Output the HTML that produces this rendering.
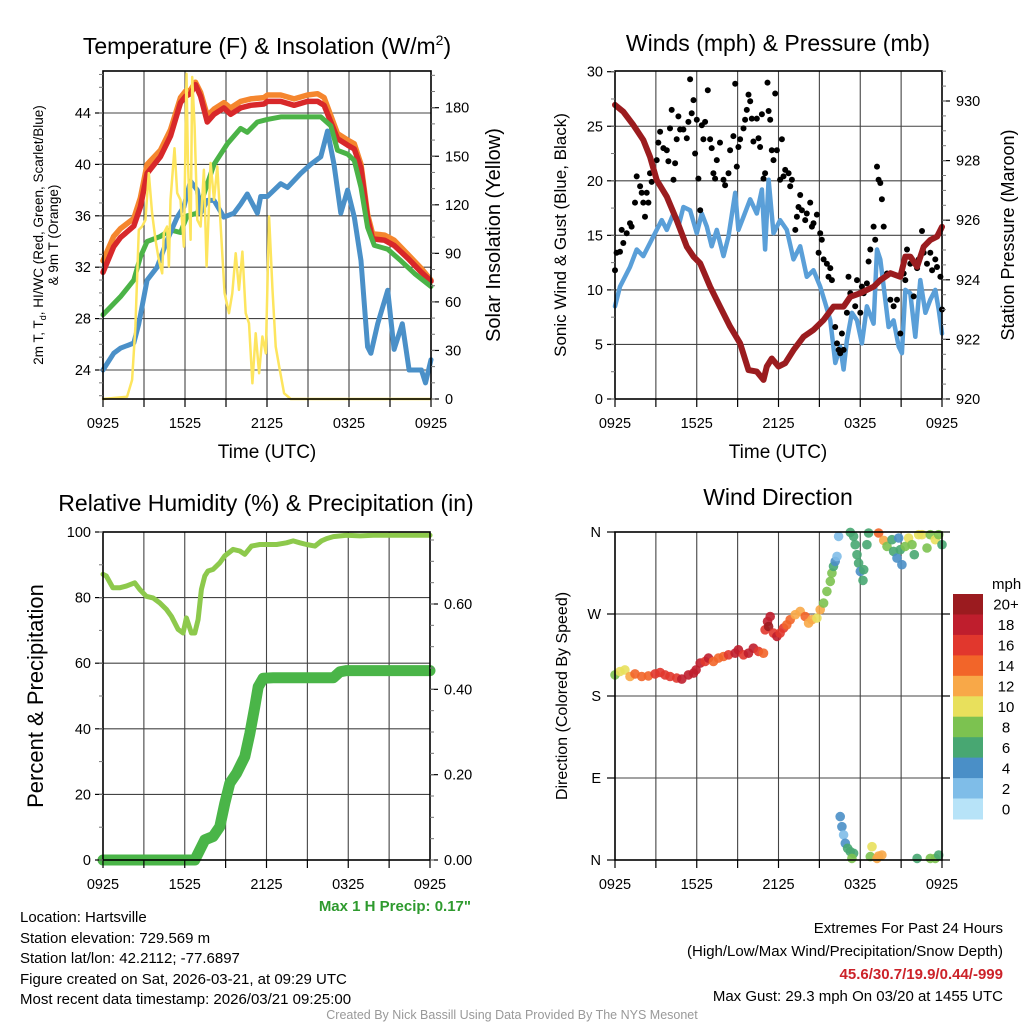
<!DOCTYPE html>
<html><head><meta charset="utf-8">
<style>
html,body{margin:0;padding:0;background:#fff;}
svg{display:block;font-family:"Liberation Sans",Arial,sans-serif;}
</style></head>
<body>
<svg id="fig" width="1024" height="1024" viewBox="0 0 1024 1024" xmlns="http://www.w3.org/2000/svg">
<rect width="1024" height="1024" fill="#fff"/>
<g id="layer-grid"></g>
<g id="layer-data"></g>
<g id="layer-axes"></g>
<!-- Titles -->
<text x="267" y="54" font-size="23" text-anchor="middle">Temperature (F) &amp; Insolation (W/m<tspan font-size="14" dy="-9">2</tspan><tspan dy="9">)</tspan></text>
<text x="778" y="51" font-size="23" text-anchor="middle">Winds (mph) &amp; Pressure (mb)</text>
<text x="266" y="511" font-size="23" text-anchor="middle">Relative Humidity (%) &amp; Precipitation (in)</text>
<text x="778" y="505" font-size="23" text-anchor="middle">Wind Direction</text>
<!-- Axis titles -->
<text x="267" y="458" font-size="19" text-anchor="middle">Time (UTC)</text>
<text x="778" y="458" font-size="19" text-anchor="middle">Time (UTC)</text>
<text transform="translate(43,235) rotate(-90)" font-size="13.5" text-anchor="middle">2m T, T<tspan font-size="9" dy="3">d</tspan><tspan dy="-3">, HI/WC (Red, Green, Scarlet/Blue)</tspan></text>
<text transform="translate(58,235) rotate(-90)" font-size="13.5" text-anchor="middle">&amp; 9m T (Orange)</text>
<text transform="translate(500,235) rotate(-90)" font-size="20" text-anchor="middle">Solar Insolation (Yellow)</text>
<text transform="translate(566,235) rotate(-90)" font-size="17" text-anchor="middle">Sonic Wind &amp; Gust (Blue, Black)</text>
<text transform="translate(1014,235) rotate(-90)" font-size="18" text-anchor="middle">Station Pressure (Maroon)</text>
<text transform="translate(43,696) rotate(-90)" font-size="22" text-anchor="middle">Percent &amp; Precipitation</text>
<text transform="translate(567,696) rotate(-90)" font-size="16" text-anchor="middle">Direction (Colored By Speed)</text>
<!-- Colorbar -->
<g id="colorbar"></g>
<text x="992" y="589" font-size="15">mph</text>
<!-- Footer -->
<text x="471" y="911" font-size="15" font-weight="bold" fill="#2e9a2e" text-anchor="end">Max 1 H Precip: 0.17"</text>
<g font-size="15">
<text x="20" y="922">Location: Hartsville</text>
<text x="20" y="943">Station elevation: 729.569 m</text>
<text x="20" y="963">Station lat/lon: 42.2112; -77.6897</text>
<text x="20" y="984">Figure created on Sat, 2026-03-21, at 09:29 UTC</text>
<text x="20" y="1004">Most recent data timestamp: 2026/03/21 09:25:00</text>
</g>
<g font-size="15" text-anchor="end">
<text x="1003" y="933">Extremes For Past 24 Hours</text>
<text x="1003" y="956">(High/Low/Max Wind/Precipitation/Snow Depth)</text>
<text x="1003" y="979" font-weight="bold" fill="#cc2229">45.6/30.7/19.9/0.44/-999</text>
<text x="1003" y="1001">Max Gust: 29.3 mph On 03/20 at 1455 UTC</text>
</g>
<text x="512" y="1019" font-size="12.5" fill="#999" text-anchor="middle">Created By Nick Bassill Using Data Provided By The NYS Mesonet</text>
</svg>
<script>
// ---------- DATA ----------
const tRedT=[0,0.78,1.27,2.25,2.74,3.23,4.2,4.94,5.67,6.04,6.4,6.77,7.14,7.63,8.12,8.85,9.34,10.07,10.8,11.78,12.03,13.0,13.98,14.96,15.7,16.18,16.67,17.16,17.9,18.39,18.88,19.36,19.73,20.6,21.3,22.3,23.3,24];
const redTemp=[31.6,33.6,34.3,35.2,36.7,39.3,40.6,42.2,44.8,45.3,45.5,46.2,45.3,43.3,43.9,44.4,43.9,44.4,44.6,44.7,44.9,44.9,44.6,44.9,44.9,44.6,43.3,42.0,41.5,41.2,39.7,35.8,34.2,34.1,33.7,32.7,31.6,30.9];
const orangeTemp=[32.5,34.4,35.0,35.8,37.4,40.0,41.1,42.7,45.2,45.7,45.8,46.4,45.6,43.8,44.3,44.8,44.4,44.9,45.1,45.2,45.4,45.4,45.1,45.4,45.5,45.2,43.8,42.4,41.9,41.6,40.0,36.1,34.6,34.5,34.1,33.0,31.9,31.0];
const tGreen=[0,1.27,2.25,2.74,3.23,4.2,4.94,5.67,6.16,6.9,7.38,8.12,9.1,10.07,10.56,11.3,12.03,13.0,14.47,15.94,16.67,17.16,17.9,18.39,18.88,19.36,19.85,20.83,21.8,22.8,24];
const greenTemp=[28.3,29.7,31.0,32.8,34.0,34.4,34.9,34.7,36.0,36.2,37.7,40.0,41.6,42.8,42.5,43.3,43.5,43.7,43.7,43.7,43.0,41.1,40.8,40.3,38.2,35.1,33.7,33.4,32.5,31.5,30.5];
const tBlue=[0,0.78,1.27,2.25,2.62,3.23,3.96,4.69,5.43,5.92,6.4,6.9,7.14,7.63,8.12,8.85,9.58,10.07,10.56,11.3,11.54,12.03,13.0,13.5,14.47,15.2,15.94,16.43,16.9,17.4,17.9,18.39,18.88,19.36,19.6,20.1,20.83,21.3,21.9,22.4,23.3,23.6,24];
const dewTemp=[24.0,25.3,25.7,26.1,27.6,31.0,32.0,34.1,35.9,36.7,38.7,38.0,36.2,37.2,37.2,35.9,36.2,36.9,37.7,36.2,37.5,37.5,38.5,38.2,39.3,40.0,40.6,42.6,40.0,36.2,38.0,35.9,32.5,25.8,25.3,27.6,30.2,25.6,27.6,24.0,24.0,23.0,24.8];
const tSolar=[0,1.76,2.13,2.37,2.62,2.86,3.1,3.35,3.59,3.84,4.08,4.33,4.45,4.69,4.82,4.94,5.23,5.43,5.67,5.92,6.11,6.21,6.41,6.53,6.7,6.9,7.14,7.38,7.58,7.87,8.12,8.36,8.61,8.9,9.22,9.46,9.71,9.95,10.2,10.44,10.68,10.93,11.17,11.42,11.66,11.91,12.15,12.4,12.64,12.89,13.25,13.74,24];
const solar=[0,1.4,11.8,44.7,104.5,106.6,110.7,139.6,114.8,98.4,86,77.7,102.5,106.6,81.9,123,155,127.2,123,94.2,201,147.8,98.4,199,168.5,110.7,106.6,141.6,81.9,145.8,123,143.7,106.6,65.4,53,65.4,90.1,67.4,91.1,53,46.8,9.7,40.6,15.9,38.6,28.2,112.8,67.4,32.4,20,3.5,0,0];
const tPres=[0,0.61,1.35,2.08,2.57,3.06,3.8,4.53,5.27,5.76,6.25,6.98,7.71,8.45,9.18,9.8,10.41,10.9,11.14,11.51,12.0,12.49,13.1,13.84,14.57,15.31,16.04,16.78,17.27,18.0,18.49,18.98,19.47,20.21,20.94,21.31,21.67,22.17,22.66,23.15,23.64,24];
const pressure=[929.87,929.64,929.19,928.69,928.13,927.35,926.79,926.0,925.11,924.78,924.55,923.77,923.1,922.43,921.87,920.97,920.92,920.64,921.09,921.36,921.09,921.2,921.64,922.09,922.32,922.65,923.1,923.1,923.43,923.55,923.66,923.77,923.99,924.22,924.1,924.78,924.78,924.44,925.11,925.34,925.45,925.78];
const tWind=[0,0.37,1.1,1.59,2.08,2.57,3.06,3.43,3.8,4.29,4.65,5.02,5.51,6.0,6.37,6.74,7.1,7.47,7.96,8.33,8.82,9.06,9.43,9.92,10.41,10.78,11.02,11.27,11.63,12.12,12.61,13.1,13.59,14.08,14.57,15.06,15.43,15.8,16.17,16.53,16.78,17.02,17.39,17.76,18.12,18.49,18.98,19.23,19.47,19.72,20.08,20.45,20.82,21.06,21.31,21.67,22.04,22.41,22.78,23.14,23.51,23.76,24];
const windSpeed=[8.5,10.3,12.1,13.7,13.1,14.3,15.5,16.4,15.5,17.0,15.8,17.6,17.3,15.2,17.0,15.8,14.0,15.5,13.1,14.9,18.9,15.5,16.7,18.3,17.0,19.2,13.7,20.1,15.2,16.4,15.5,12.8,14.0,11.2,11.8,10.3,8.8,7.2,3.3,4.8,2.7,5.4,7.9,7.2,5.1,8.5,6.9,13.7,12.8,10.3,6.6,7.2,4.8,4.2,10.0,9.7,5.7,10.9,7.9,9.1,10.0,8.2,6.0];
const tGust=[0,0.12,0.37,0.61,0.49,0.86,1.10,1.22,1.47,1.59,1.84,1.96,2.08,2.20,2.33,2.45,2.57,2.69,3.06,3.18,3.31,3.55,3.80,3.92,4.04,4.16,4.29,4.41,4.53,4.65,4.78,5.02,5.27,5.39,5.51,5.63,5.76,5.88,6.00,6.12,6.25,6.37,6.49,6.61,6.81,6.98,7.10,7.22,7.35,7.47,7.71,7.96,8.08,8.33,8.45,8.69,8.82,8.94,9.06,9.18,9.43,9.55,9.67,9.80,9.92,10.04,10.16,10.41,10.53,10.65,10.78,10.90,11.02,11.19,11.27,11.39,11.51,11.63,11.76,11.88,12.12,12.25,12.37,12.49,12.74,12.86,12.98,13.23,13.35,13.47,13.59,13.72,13.96,14.08,14.33,14.45,14.57,14.82,14.94,15.06,15.18,15.31,15.55,15.67,15.80,15.92,16.16,16.29,16.41,16.53,16.65,16.78,17.02,17.14,17.27,17.63,17.76,18.00,18.12,18.25,18.49,18.61,18.74,18.98,19.10,19.23,19.35,19.47,19.59,19.72,19.96,20.21,20.45,20.70,20.94,21.19,21.31,21.43,21.67,21.92,22.17,22.29,22.53,22.66,22.90,23.14,23.27,23.51,23.63,23.88,24.0];
const gust=[11.8,13.4,13.5,14.3,15.5,15.2,16.1,15.8,18.0,20.4,19.5,18.9,18.0,16.7,18.9,18.0,20.7,19.9,21.9,23.5,24.5,23.0,22.8,21.8,24.8,26.5,20.1,21.6,23.8,25.9,24.7,24.7,23.9,25.4,29.3,26.2,27.4,22.5,25.6,20.2,17.3,25.1,23.8,25.4,28.3,23.8,23.0,20.7,20.2,21.9,23.5,20.1,19.6,20.7,22.8,24.1,28.9,21.3,23.1,23.8,24.8,25.6,26.5,27.9,27.3,25.7,23.6,25.7,23.9,23.1,26.1,20.2,20.7,29.0,26.4,25.6,22.8,21.9,28.0,22.8,20.1,23.8,20.4,21.0,20.7,19.5,20.1,15.5,16.7,17.6,18.7,17.3,16.4,17.0,18.0,15.8,16.1,16.9,13.4,15.2,14.6,12.8,12.4,11.2,12.0,10.9,6.6,5.1,4.5,4.2,6.0,4.5,7.9,11.2,9.7,8.5,10.9,7.9,10.3,9.7,10.6,12.6,13.7,15.8,14.6,21.3,20.1,19.8,18.3,15.8,11.5,9.1,8.5,9.1,6.0,11.5,10.9,13.7,12.4,9.4,12.0,12.8,15.4,13.4,12.4,13.4,11.8,12.8,12.1,11.2,8.2];
const tRH=[0,0.24,0.73,1.22,1.71,2.33,2.69,3.18,3.67,4.16,4.65,5.02,5.51,5.88,6.12,6.49,6.74,6.98,7.22,7.47,7.71,8.08,8.57,8.94,9.55,10.04,10.41,10.9,11.51,11.99,12.74,13.47,13.96,14.45,14.94,15.55,16.04,16.41,16.9,17.88,18.86,19.84,24];
const rh=[87.1,86.6,83.0,83.0,83.5,84.5,82.5,80.4,79.9,78.4,76.4,74.3,70.3,69.2,73.8,69.2,69.2,73.3,82.5,86.6,88.1,88.6,90.6,92.7,94.7,94.2,93.2,95.7,96.2,96.2,96.2,96.7,97.3,96.7,96.2,95.7,97.3,98.0,98.6,99.0,98.8,99.0,99.0];
const tPrecip=[0,6.74,7.10,7.47,8.08,8.57,8.94,9.31,9.80,10.41,10.78,11.14,11.39,11.76,12.49,16.9,17.39,17.88,24];
const precip=[0,0,0.023,0.047,0.055,0.078,0.133,0.18,0.203,0.242,0.297,0.359,0.406,0.426,0.427,0.427,0.441,0.444,0.444];
const tDir=[0,0.37,0.73,1.10,1.47,1.96,2.45,2.94,3.31,3.67,4.04,4.53,4.90,5.39,5.76,5.95,6.25,6.61,6.86,7.22,7.59,7.96,8.33,8.82,9.06,9.43,9.80,10.16,10.53,10.90,11.02,11.19,11.39,11.27,11.63,11.88,12.12,12.37,12.61,12.86,13.23,13.59,13.96,14.21,14.45,14.82,15.06,15.31,15.55,15.80,15.92,16.04,16.16,16.29,16.41,17.27,17.51,17.63,17.76,17.88,18.00,18.25,18.20,18.49,18.61,19.35,19.72,19.96,20.33,20.45,20.70,20.82,20.94,21.06,21.31,21.55,21.80,21.97,22.29,22.53,22.90,23.14,23.51,23.76,24.0,16.53,16.65,16.78,16.90,17.07,17.27,17.51,17.39,18.86,18.74,19.23,19.59,19.35,22.17,23.14,23.51,23.76];
const dirDeg=[203.2,206.9,208.7,201.4,204.3,201.4,202.1,204.3,205.8,203.2,201.4,199.6,198.5,203.2,205.1,208.7,216.1,217.9,221.6,217.9,221.6,223.4,225.2,227.0,230.7,225.2,227.0,232.5,228.9,227.0,252.7,261.8,267.3,256.3,249.0,245.4,249.0,254.5,258.2,263.7,269.2,272.8,267.3,260.0,263.7,265.5,274.7,282.0,294.8,305.8,314.9,322.3,327.7,333.2,355.2,359.6,355.2,346.1,335.1,325.9,316.8,318.6,306.9,346.1,358.9,358.9,350.8,344.2,351.6,338.7,331.4,353.4,340.6,324.1,344.2,353.4,346.1,335.1,357.0,357.0,342.4,357.0,351.6,357.0,346.1,47.6,36.6,27.5,18.3,12.8,9.2,7.3,1.8,14.6,3.7,1.8,5.5,4.4,1.8,1.8,1.8,5.5];
const dirSpeed=[8,10,10,12,14,14,14,16,16,16,16,16,18,18,18,18,18,16,18,14,14,14,16,18,18,16,18,18,16,14,16,18,18,20,16,18,16,16,14,14,12,12,14,12,12,10,12,8,8,8,8,6,4,2,2,6,6,6,6,6,4,6,6,6,6,14,12,8,6,6,4,4,6,4,8,10,8,6,10,10,8,8,10,8,6,4,4,2,4,6,6,6,8,10,8,12,12,12,6,8,8,6];
const timeLabels=["0925","1525","2125","0325","0925"];
const tempTicks=[24,28,32,36,40,44];
const solarTicks=[0,30,60,90,120,150,180];
const windTicks=[0,5,10,15,20,25,30];
const presTicks=[920,922,924,926,928,930];
const rhTicks=[0,20,40,60,80,100];
const precipTicks=[0,0.2,0.4,0.6];
const dirLabels=["N","E","S","W","N"];
const speedBins=["20+","18","16","14","12","10","8","6","4","2","0"];
const speedColors=["#9b1b1f","#bf1e2d","#e1372d","#f26529","#f8a848","#e8e05c","#7cc250","#48a772","#4a8fc7","#7fbde8","#b7e3f8"];

const NS="http://www.w3.org/2000/svg";
const gGrid=document.getElementById('layer-grid');
const gData=document.getElementById('layer-data');
const gAxes=document.getElementById('layer-axes');
function mk(tag,parent){const e=document.createElementNS(NS,tag);parent.appendChild(e);return e;}
function line(p,x1,y1,x2,y2,stroke,w){const e=mk('line',p);e.setAttribute('x1',x1);e.setAttribute('y1',y1);e.setAttribute('x2',x2);e.setAttribute('y2',y2);e.setAttribute('stroke',stroke);e.setAttribute('stroke-width',w);return e;}
function txt(p,x,y,s,size,anchor){const e=mk('text',p);e.setAttribute('x',x);e.setAttribute('y',y);e.setAttribute('font-size',size);e.setAttribute('text-anchor',anchor);e.textContent=s;return e;}
function linScale(d0,d1,r0,r1){return v=>r0+(v-d0)*(r1-r0)/(d1-d0);}
function pathFrom(xs,ys,sx,sy){let d='';for(let i=0;i<xs.length;i++){d+=(i?'L':'M')+sx(xs[i]).toFixed(1)+','+sy(ys[i]).toFixed(1);}return d;}

const panels={
 temp:{x0:103,x1:431,y0:71,y1:399},
 wind:{x0:615,x1:942,y0:71,y1:399},
 rh:{x0:103,x1:430,y0:532,y1:860},
 dir:{x0:615,x1:942,y0:532,y1:860}
};
function timeAxis(P,name){
 const sx=linScale(0,24,P.x0,P.x1);
 for(let h=0;h<=24;h+=3){
  const x=sx(h);
  if(h>0&&h<24){const g=line(gGrid,x,P.y0,x,P.y1,'#444',1.1);
   
   }
  const t=line(gAxes,x,P.y1,x,P.y1+8,'#000',1.2);
  
  
 }
 timeLabels.forEach((s,i)=>{const e=txt(gAxes,sx(i*6),P.y1+29,s,14.5,'middle');
  
  });
 const r=mk('rect',gAxes);r.setAttribute('x',P.x0);r.setAttribute('y',P.y0);r.setAttribute('width',P.x1-P.x0);r.setAttribute('height',P.y1-P.y0);r.setAttribute('fill','none');r.setAttribute('stroke','#000');r.setAttribute('stroke-width','1.6');
 
 
 return sx;
}
function leftAxis(P,ticks,sy,name,fmt,minorStep,minorFrom,minorTo,grid){
 ticks.forEach(v=>{const y=sy(v);
  if(grid&&y>P.y0+2&&y<P.y1-2){const g=line(gGrid,P.x0,y,P.x1,y,'#444',1.1);
   
   }
  const t=line(gAxes,P.x0-8,y,P.x0,y,'#000',1.2);
  
  
  const e=txt(gAxes,P.x0-12,y+5,fmt(v),14.5,'end');
  
  });
 for(let v=minorFrom;v<=minorTo+1e-9;v+=minorStep){const y=sy(v);if(y<P.y0||y>P.y1)continue;
  const t=line(gAxes,P.x0-4,y,P.x0,y,'#777',1);
  
  }
}
function rightAxis(P,ticks,sy,name,fmt,minorStep,minorFrom,minorTo){
 ticks.forEach(v=>{const y=sy(v);
  const t=line(gAxes,P.x1,y,P.x1+8,y,'#000',1.2);
  
  
  const e=txt(gAxes,P.x1+14,y+5,fmt(v),14.5,'start');
  
  });
 for(let v=minorFrom;v<=minorTo+1e-9;v+=minorStep){const y=sy(v);if(y<P.y0||y>P.y1)continue;
  const t=line(gAxes,P.x1,y,P.x1+4,y,'#777',1);
  
  }
}
function series(xs,ys,sx,sy,color,w,name){
 const p=mk('path',gData);p.setAttribute('d',pathFrom(xs,ys,sx,sy));p.setAttribute('fill','none');p.setAttribute('stroke',color);p.setAttribute('stroke-width',w);p.setAttribute('stroke-linejoin','round');p.setAttribute('stroke-linecap','round');
 
 
 return p;
}

{const P=panels.temp;const sx=timeAxis(P,'temp');
 const sy=linScale(24,44,370,113);const sS=linScale(0,180,399,107.7);
 leftAxis(P,tempTicks,sy,'temp',v=>String(v),1,22,47,true);
 rightAxis(P,solarTicks,sS,'solar',v=>String(v),10,0,200);
 series(tRedT,orangeTemp,sx,sy,'#f5862e',5.5,'nine-meter-temp-line');
 series(tRedT,redTemp,sx,sy,'#d8282a',5.5,'two-meter-temp-line');
 series(tGreen,greenTemp,sx,sy,'#4bb347',5,'heat-index-windchill-line');
 series(tBlue,dewTemp,sx,sy,'#4a90c8',5,'dewpoint-line');
 series(tSolar,solar,sx,sS,'#fde55e',2.5,'solar-insolation-line');}

{const P=panels.wind;const sx=timeAxis(P,'wind');
 const sy=linScale(0,30,399,71.7);const sp=linScale(920,930,399,101);
 leftAxis(P,windTicks,sy,'wind',v=>String(v),2.5,0,30,true);
 rightAxis(P,presTicks,sp,'pressure',v=>String(v),0.5,920,931);
 series(tWind,windSpeed,sx,sy,'#5a9fd8',4.5,'sonic-wind-line');
 for(let i=0;i<tGust.length;i++){const c=mk('circle',gData);c.setAttribute('cx',sx(tGust[i]).toFixed(1));c.setAttribute('cy',sy(gust[i]).toFixed(1));c.setAttribute('r','3');c.setAttribute('fill','#000');
  
  }
 series(tPres,pressure,sx,sp,'#9b1c1f',6,'pressure-line');}

{const P=panels.rh;const sx=timeAxis(P,'rh');
 const sy=linScale(0,100,860,532);const sp=linScale(0,0.6,860,604);
 leftAxis(P,rhTicks,sy,'rh',v=>String(v),10,0,100,true);
 rightAxis(P,precipTicks,sp,'precip',v=>v.toFixed(2),0.05,0,0.75);
 series(tRH,rh,sx,sy,'#8dc94c',5,'humidity-line');
 series(tPrecip,precip,sx,sp,'#4ab548',11,'precipitation-line');}

{const P=panels.dir;const sx=timeAxis(P,'dir');
 const sy=linScale(0,360,860,532);
 dirLabels.forEach((s,i)=>{const y=sy(i*90);
  if(i>0&&i<4){const g=line(gGrid,P.x0,y,P.x1,y,'#444',1.1);
   
   }
  const t=line(gAxes,P.x0-8,y,P.x0,y,'#000',1.2);
  
  
  const t2=line(gAxes,P.x1,y,P.x1+8,y,'#000',1.2);
  
  
  const e=txt(gAxes,P.x0-14,y+5,s,14.5,'end');
  
  });
 for(let i=0;i<tDir.length;i++){const bin=Math.min(10,Math.floor(dirSpeed[i]/2));const c=mk('circle',gData);
  c.setAttribute('cx',sx(tDir[i]).toFixed(1));c.setAttribute('cy',sy(dirDeg[i]).toFixed(1));c.setAttribute('r','4.8');c.setAttribute('fill',speedColors[10-bin]);c.setAttribute('fill-opacity','0.9');
  
  }
 const cb=document.getElementById('colorbar');
 const h=225/speedBins.length;
 speedBins.forEach((lab,i)=>{const r=mk('rect',cb);r.setAttribute('x',953);r.setAttribute('y',(594+i*h).toFixed(1));r.setAttribute('width',30);r.setAttribute('height',(h+0.5).toFixed(1));r.setAttribute('fill',speedColors[i]);
  
  
  const e=txt(cb,1006,(594+i*h+h/2+5.5).toFixed(1),lab,15,'middle');
  
  });}
</script>
</body></html>
